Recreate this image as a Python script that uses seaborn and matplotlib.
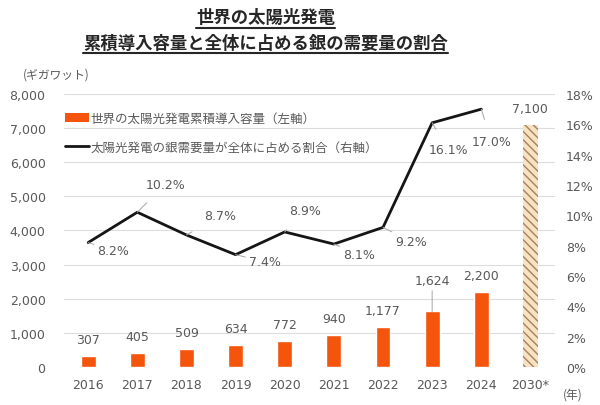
import numpy as np
import pandas as pd
import seaborn as sns
import matplotlib.pyplot as plt
from matplotlib.lines import Line2D
from matplotlib.patches import Patch

years = ['2016', '2017', '2018', '2019', '2020', '2021', '2022', '2023', '2024', '2030*']
capacity = [307, 405, 509, 634, 772, 940, 1177, 1624, 2200, 7100]
share_years = ['2016', '2017', '2018', '2019', '2020', '2021', '2022', '2023', '2024']
share = [8.2, 10.2, 8.7, 7.4, 8.9, 8.1, 9.2, 16.1, 17.0]
# label offsets in pixels (dx, dy) for the % labels
share_offsets = [(25, -8), (28, 28), (34, 19), (29, -7), (20, 21), (25, -10), (28, -14), (16, -27), (10, -32)]

sns.set_style("white")
plt.rcParams['font.family'] = ['Noto Sans CJK JP', 'DejaVu Sans']
gray = '#595959'
orange = '#F5540C'
numfont = 'DejaVu Sans'

fig = plt.figure(figsize=(6, 4.06), dpi=100)
ax = fig.add_axes([0.106, 0.094, 0.819, 0.672])

df = pd.DataFrame({'year': years, 'cap': capacity})
sns.barplot(data=df, x='year', y='cap', color=orange, width=0.3, saturation=1, ax=ax, zorder=2)
bars = ax.patches
last = bars[-1]
last.set_facecolor('#F7E3C4')
last.set_edgecolor('#A9805C')
last.set_hatch('\\\\\\\\')
last.set_linewidth(0)

for i, b in enumerate(bars):
    v = capacity[i]
    xy = (b.get_x() + b.get_width() / 2, b.get_height())
    if i == 7:
        ax.annotate(f'{v:,}', xy, xytext=(0, 24), textcoords='offset pixels', ha='center', va='bottom',
                    fontsize=9, color=gray, family=numfont,
                    arrowprops=dict(arrowstyle='-', color='#a6a6a6', lw=0.7, shrinkA=0, shrinkB=0))
    else:
        ax.annotate(f'{v:,}', xy, xytext=(0, 10), textcoords='offset pixels', ha='center', va='bottom',
                    fontsize=9, color=gray, family=numfont)

ax2 = ax.twinx()

ax.set_ylim(0, 8000)
ax.set_xlim(-0.5, 9.5)
ax.set_yticks(range(0, 8001, 1000))
ax.set_yticklabels([f'{t:,}' for t in range(0, 8001, 1000)], family=numfont)
ax.set_xticks(range(len(years)))
ax.set_xticklabels(years, family=numfont)
ax.yaxis.grid(True, color='#dddddd', linewidth=0.8, zorder=0)
ax.set_axisbelow(True)
ax.set_xlabel('')
ax.set_ylabel('')
ax.tick_params(axis='x', length=0, labelsize=9, colors=gray, pad=8)
ax.tick_params(axis='y', length=0, labelsize=9, colors=gray, pad=13)
for s in ax.spines.values():
    s.set_visible(False)

ldf = pd.DataFrame({'x': np.arange(len(share)), 'share': share})
sns.lineplot(data=ldf, x='x', y='share', color='#151515', linewidth=2, ax=ax2)
ax2.set_ylim(0, 18)
ax2.set_yticks(range(0, 19, 2))
ax2.set_yticklabels([f'{t}%' for t in range(0, 19, 2)], family=numfont)
ax2.set_xlim(-0.5, 9.5)
ax2.set_ylabel('')
ax2.tick_params(axis='y', length=0, labelsize=9, colors=gray, pad=8)
for s in ax2.spines.values():
    s.set_visible(False)

for i, v in enumerate(share):
    dx, dy = share_offsets[i]
    ax2.annotate(f'{v}%', (i, v), xytext=(dx, dy), textcoords='offset pixels',
                 ha='center', va='center', fontsize=9, color=gray, family=numfont,
                 arrowprops=dict(arrowstyle='-', color='#a6a6a6', lw=0.7, shrinkA=9, shrinkB=0))

handles = [Patch(facecolor=orange, edgecolor='none'),
           Line2D([0], [0], color='#151515', linewidth=2)]
labels = ['世界の太陽光発電累積導入容量（左軸）', '太陽光発電の銀需要量が全体に占める割合（右軸）']
ax2.legend(handles, labels, loc='upper left', bbox_to_anchor=(-0.02, 0.975), frameon=False,
           fontsize=9, labelcolor=gray, handlelength=1.9, handletextpad=0.15, labelspacing=1.25)

t1 = fig.text(0.443, 0.955, '世界の太陽光発電', ha='center', va='center',
              fontsize=12.5, fontweight='bold', color='#262626')
t2 = fig.text(0.443, 0.892, '累積導入容量と全体に占める銀の需要量の割合', ha='center', va='center',
              fontsize=12.5, fontweight='bold', color='#262626')
fig.text(0.038, 0.815, '(ギガワット)', fontsize=8.5, color=gray, va='center')
fig.text(0.938, 0.027, '(年)', fontsize=8.5, color=gray, va='center', ha='left')

# underline the title lines
fig.canvas.draw()
r = fig.canvas.get_renderer()
for t in (t1, t2):
    bb = t.get_window_extent(r).transformed(fig.transFigure.inverted())
    fig.add_artist(Line2D([bb.x0, bb.x1], [bb.y0 - 0.004, bb.y0 - 0.004], color='#262626', lw=1.5))

fig.savefig('out.png', dpi=100)
